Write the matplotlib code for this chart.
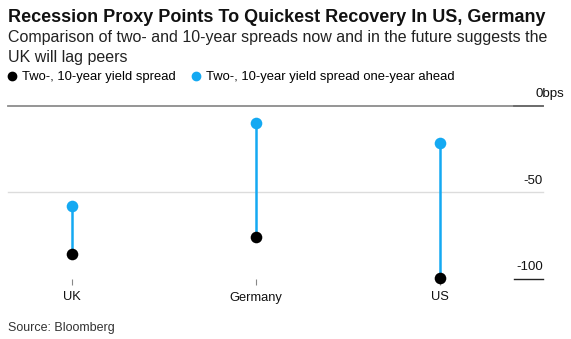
import matplotlib
matplotlib.use("Agg")
import matplotlib.pyplot as plt
from matplotlib.lines import Line2D

plt.rcParams['font.family'] = ['Liberation Sans', 'DejaVu Sans']

countries = ["UK", "Germany", "US"]
spread_now = [-85.5, -75.7, -99.5]
spread_ahead = [-57.7, -9.8, -21.7]
y_ticks = [0, -50, -100]
y_labels = ["0bps", "-50", "-100"]

BLUE = "#14A9F2"
W, H = 571, 339
fig = plt.figure(figsize=(W / 100, H / 100), dpi=100)

def fx(px):
    return px / W

def fy(py):
    return 1 - py / H

ax = fig.add_axes([fx(8), fy(279), fx(543) - fx(8), fy(105.7) - fy(279)])
ax.set_xlim(-0.348, 2.56)
ax.set_ylim(-100, 0)
for s in ax.spines.values():
    s.set_visible(False)

# gridlines
ax.axhline(0, color="#8c8c8c", lw=1.3, zorder=1, clip_on=False)
ax.axhline(-50, color="#dcdcdc", lw=1.0, zorder=1, clip_on=False)
ax.axhline(0, xmin=0.946, xmax=1.0, color="#6a6a6a", lw=1.3, zorder=1, clip_on=False)
ax.axhline(-100, xmin=0.946, xmax=1.0, color="#222222", lw=1.0, zorder=1, clip_on=False)

xs = list(range(len(countries)))
ax.vlines(xs, spread_now, spread_ahead, color=BLUE, lw=1.8, zorder=2)
ax.scatter(xs, spread_ahead, s=70, color=BLUE, zorder=3, clip_on=False, linewidths=0)
ax.scatter(xs, spread_now, s=70, color="black", zorder=4, clip_on=False, linewidths=0)

ax.set_yticks([])
ax.set_xticks(xs)
ax.set_xticklabels(countries, fontsize=9.3, color="#111111")
ax.tick_params(axis="x", length=4, width=0.8, color="#888888", pad=5)

# right-side y labels above lines
for v, lab in zip(y_ticks, y_labels):
    if lab.endswith("bps"):
        ax.annotate(lab, xy=(1.0, v), xycoords=("axes fraction", "data"),
                    xytext=(-5.5, 4), textcoords="offset points",
                    ha="left", va="bottom", fontsize=9.6, color="#111111")
    else:
        ax.annotate(lab, xy=(1.0, v), xycoords=("axes fraction", "data"),
                    xytext=(0, 4), textcoords="offset points",
                    ha="right", va="bottom", fontsize=9.5, color="#111111")

fig.text(fx(8), fy(18), "Recession Proxy Points To Quickest Recovery In US, Germany",
         fontsize=13.0, fontweight="bold", va="center", ha="left", color="#111111")
fig.text(fx(8), fy(37.5), "Comparison of two- and 10-year spreads now and in the future suggests the",
         fontsize=11.5, va="center", ha="left", color="#222222")
fig.text(fx(8), fy(57.5), "UK will lag peers",
         fontsize=11.5, va="center", ha="left", color="#222222")

handles = [
    Line2D([], [], marker="o", ls="", color="black", markersize=6),
    Line2D([], [], marker="o", ls="", color=BLUE, markersize=6),
]
fig.legend(handles, ["Two-, 10-year yield spread", "Two-, 10-year yield spread one-year ahead"],
           loc="center left", bbox_to_anchor=(fx(4), fy(77)), ncol=2, frameon=False,
           fontsize=9.35, handletextpad=0.15, columnspacing=1.0, handlelength=1.2,
           borderaxespad=0, borderpad=0)

fig.text(fx(8), fy(328), "Source: Bloomberg", fontsize=9, va="center", ha="left", color="#333333")

fig.savefig("out.png", dpi=100)
